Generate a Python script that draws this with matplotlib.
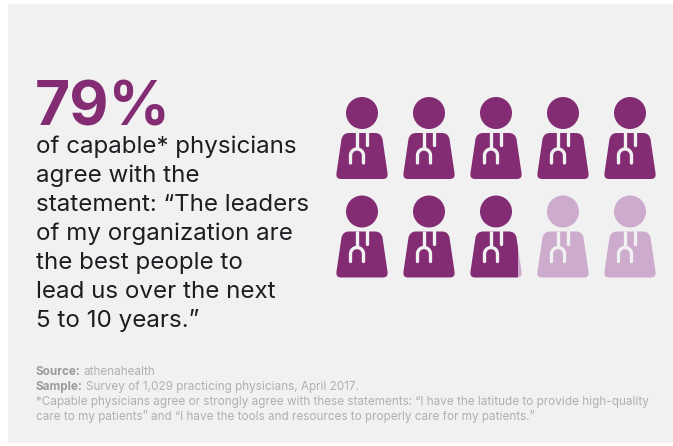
import numpy as np
import matplotlib
matplotlib.use('Agg')
import matplotlib.pyplot as plt
from matplotlib.patches import Circle, Rectangle, PathPatch
from matplotlib.path import Path

percent = 79
icons_per_row = 5
n_rows = 2
percent_per_icon = 10

headline = "79%"
statement = ["of capable* physicians", "agree with the", "statement: “The leaders", "of my organization are",
             "the best people to", "lead us over the next", "5 to 10 years.”"]
notes = [("Source:", "athenahealth"),
         ("Sample:", "Survey of 1,029 practicing physicians, April 2017."),
         ("", "*Capable physicians agree or strongly agree with these statements: “I have the latitude to provide high-quality"),
         ("", "care to my patients” and “I have the tools and resources to properly care for my patients.”")]

dark = '#832c74'
light = '#cdabcd'
panel = '#f1f1f1'
plt.rcParams['font.family'] = ['Inter', 'DejaVu Sans']


def body_path(cx, top):
    # trapezoid with rounded corners
    pts = [(-13, 0), (13, 0), (19, 0), (20.5, 6), (25.5, 40), (26.5, 46), (21, 46), (-21, 46), (-26.5, 46),
           (-25.5, 40), (-20.5, 6), (-19, 0), (-13, 0), (-13, 0)]
    codes = [Path.MOVETO, Path.LINETO, Path.CURVE3, Path.CURVE3, Path.LINETO, Path.CURVE3, Path.CURVE3,
             Path.LINETO, Path.CURVE3, Path.CURVE3, Path.LINETO, Path.CURVE3, Path.CURVE3, Path.CLOSEPOLY]
    return Path([(cx + x, top + y) for x, y in pts], codes)


def draw_icon(ax, cx, head_y, fill):
    top = head_y + 20
    left, right = cx - 27, cx + 27
    split = left + fill * (right - left)
    for color, x0, x1 in [(light, split, right), (dark, left, split)]:
        if x1 <= x0:
            continue
        clip = Rectangle((x0, head_y - 20), x1 - x0, 90, transform=ax.transData)
        h = Circle((cx, head_y), 16, fc=color, ec='none')
        b = PathPatch(body_path(cx, top), fc=color, ec='none')
        ax.add_patch(h)
        ax.add_patch(b)
        h.set_clip_path(clip)
        b.set_clip_path(clip)
    # stethoscope
    ax.plot([cx - 5, cx - 5], [top - 1, top + 16], color=panel, lw=2.4, solid_capstyle='butt')
    ax.plot([cx + 4.5, cx + 4.5], [top - 1, top + 12], color=panel, lw=2.4, solid_capstyle='round')
    t = np.linspace(np.pi, 0, 30)
    xs = np.r_[cx - 11.5, cx - 5 + 6.5 * np.cos(t), cx + 1.5]
    ys = np.r_[top + 30, top + 22.5 - 6.5 * np.sin(t), top + 30]
    ax.plot(xs, ys, color=panel, lw=2.4, solid_capstyle='round')


fig = plt.figure(figsize=(6.73, 4.46), dpi=100, facecolor='white')
ax = fig.add_axes([0, 0, 1, 1])
ax.set_xlim(0, 673)
ax.set_ylim(446, 0)
ax.axis('off')
ax.add_patch(Rectangle((8, 4), 665, 439, fc=panel, ec='none'))

ax.text(35, 125, headline, fontsize=43.5, fontweight='bold', color=dark, va='baseline')
for i, line in enumerate(statement):
    ax.text(36, 153.5 + i * 28.9, line, fontsize=17.4, color='#1d1d22', va='baseline')

for i in range(n_rows * icons_per_row):
    row, col = divmod(i, icons_per_row)
    fill = np.clip(percent / percent_per_icon - i, 0, 1)
    draw_icon(ax, 362 + col * 67, 113 + row * 98.5, fill)

for i, (lead, rest) in enumerate(notes):
    y = 375 + i * 15
    x = 36
    if lead:
        t = ax.text(x, y, lead, fontsize=8.45, fontweight='bold', color='#9b9b9b', va='baseline')
        fig.canvas.draw()
        x = ax.transData.inverted().transform(t.get_window_extent().corners()[-1])[0] + 3
    ax.text(x, y, rest, fontsize=8.45, color='#b0b0b0', va='baseline')

fig.savefig('out.png', dpi=100)
